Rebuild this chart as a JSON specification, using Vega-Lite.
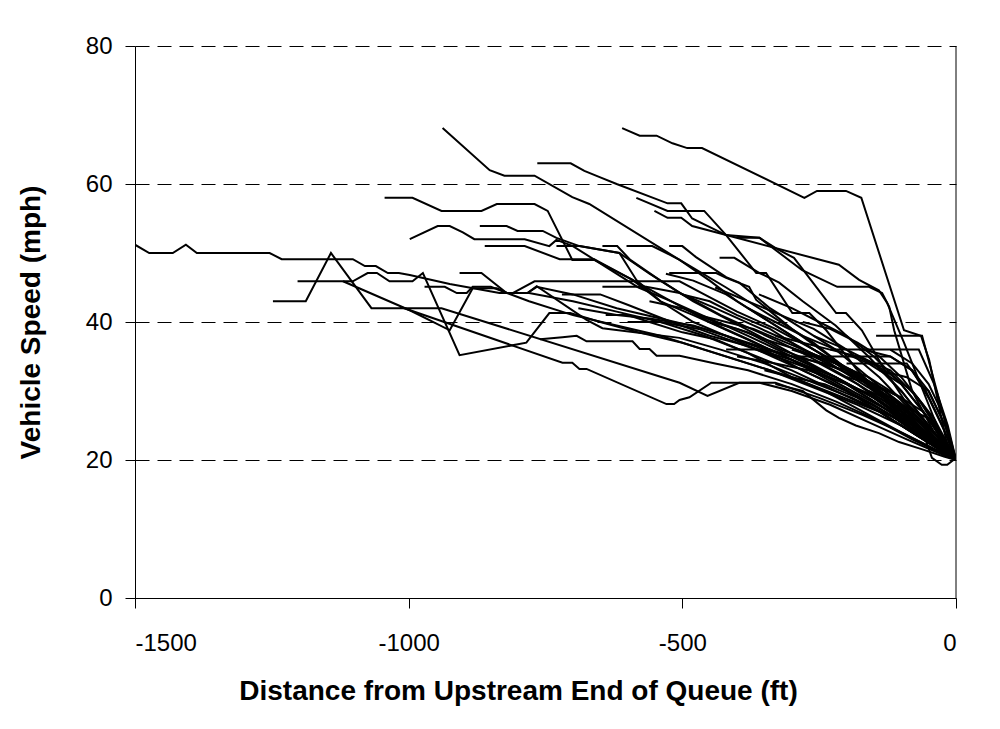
{
"$schema": "https://vega.github.io/schema/vega-lite/v6.json",
"width": 821, "height": 552,
"autosize": {"type": "none"},
"padding": {"left": 135, "top": 46, "right": 44, "bottom": 131},
"background": "white",
"config": {"view": {"stroke": null}, "font": "Liberation Sans"},
"datasets": {
"traj": [
{"id":1,"x":-610,"y":68.1},{"id":1,"x":-578,"y":67},{"id":1,"x":-547,"y":67},{"id":1,"x":-518,"y":65.9},{"id":1,"x":-491,"y":65.2},{"id":1,"x":-464,"y":65.2},{"id":1,"x":-277,"y":58},{"id":1,"x":-254,"y":59},{"id":1,"x":-201,"y":59},{"id":1,"x":-173,"y":58},{"id":1,"x":-95,"y":38.8},{"id":1,"x":-64,"y":38},{"id":1,"x":-49,"y":34.5},{"id":1,"x":-13,"y":21},{"id":1,"x":0,"y":20},
{"id":2,"x":-938,"y":68.1},{"id":2,"x":-852,"y":62},{"id":2,"x":-825,"y":61.2},{"id":2,"x":-770,"y":61.2},{"id":2,"x":-701,"y":58.1},{"id":2,"x":-670,"y":57.1},{"id":2,"x":-505,"y":49},{"id":2,"x":-420,"y":45},{"id":2,"x":-340,"y":41},{"id":2,"x":-260,"y":37},{"id":2,"x":-180,"y":32},{"id":2,"x":-100,"y":27},{"id":2,"x":-50,"y":23},{"id":2,"x":0,"y":20},
{"id":3,"x":-765,"y":63},{"id":3,"x":-704,"y":63},{"id":3,"x":-679,"y":61.9},{"id":3,"x":-651,"y":61},{"id":3,"x":-620,"y":60},{"id":3,"x":-527,"y":57.2},{"id":3,"x":-502,"y":57.2},{"id":3,"x":-482,"y":55},{"id":3,"x":-420,"y":52.6},{"id":3,"x":-359,"y":52.2},{"id":3,"x":-323,"y":50.4},{"id":3,"x":-296,"y":49.3},{"id":3,"x":-219,"y":41.3},{"id":3,"x":-201,"y":41.3},{"id":3,"x":-172,"y":38.8},{"id":3,"x":-130,"y":33},{"id":3,"x":-80,"y":27},{"id":3,"x":-40,"y":23},{"id":3,"x":0,"y":20},
{"id":4,"x":-584,"y":58},{"id":4,"x":-527,"y":56.1},{"id":4,"x":-460,"y":56.1},{"id":4,"x":-420,"y":52.6},{"id":4,"x":-365,"y":47.1},{"id":4,"x":-347,"y":47.1},{"id":4,"x":-299,"y":41.3},{"id":4,"x":-268,"y":41.3},{"id":4,"x":-237,"y":38.8},{"id":4,"x":-180,"y":33},{"id":4,"x":-120,"y":28},{"id":4,"x":-60,"y":24},{"id":4,"x":0,"y":20},
{"id":5,"x":-551,"y":56.1},{"id":5,"x":-527,"y":55.1},{"id":5,"x":-502,"y":55.1},{"id":5,"x":-482,"y":53.9},{"id":5,"x":-420,"y":52.6},{"id":5,"x":-214,"y":48.3},{"id":5,"x":-177,"y":46.1},{"id":5,"x":-141,"y":44.6},{"id":5,"x":-126,"y":42.8},{"id":5,"x":-95,"y":37},{"id":5,"x":-60,"y":30},{"id":5,"x":-30,"y":24},{"id":5,"x":0,"y":20},
{"id":6,"x":-400,"y":52.2},{"id":6,"x":-359,"y":52.2},{"id":6,"x":-281,"y":47.5},{"id":6,"x":-217,"y":45.1},{"id":6,"x":-159,"y":45.1},{"id":6,"x":-135,"y":44.2},{"id":6,"x":-122,"y":42.2},{"id":6,"x":-113,"y":38.8},{"id":6,"x":-80,"y":30},{"id":6,"x":-40,"y":24},{"id":6,"x":0,"y":20},
{"id":7,"x":-1500,"y":51.2},{"id":7,"x":-1474,"y":50},{"id":7,"x":-1431,"y":50},{"id":7,"x":-1407,"y":51.2},{"id":7,"x":-1387,"y":50},{"id":7,"x":-1254,"y":50},{"id":7,"x":-1232,"y":49.1},{"id":7,"x":-1102,"y":49.1},{"id":7,"x":-1080,"y":48.1},{"id":7,"x":-1060,"y":48.1},{"id":7,"x":-1038,"y":47.1},{"id":7,"x":-1018,"y":47.1},{"id":7,"x":-998,"y":46.8},{"id":7,"x":-925,"y":45.5},{"id":7,"x":-834,"y":44.2},{"id":7,"x":-780,"y":44.2},{"id":7,"x":-700,"y":43},{"id":7,"x":-620,"y":41.5},{"id":7,"x":-540,"y":40},{"id":7,"x":-460,"y":38},{"id":7,"x":-380,"y":35.5},{"id":7,"x":-300,"y":33},{"id":7,"x":-220,"y":30},{"id":7,"x":-140,"y":27},{"id":7,"x":-70,"y":23.5},{"id":7,"x":0,"y":20},
{"id":8,"x":-1248,"y":43},{"id":8,"x":-1188,"y":43},{"id":8,"x":-1142,"y":50},{"id":8,"x":-1068,"y":42},{"id":8,"x":-998,"y":42},{"id":8,"x":-940,"y":42},{"id":8,"x":-505,"y":31.2},{"id":8,"x":-454,"y":29.3},{"id":8,"x":-396,"y":31.2},{"id":8,"x":-330,"y":31.2},{"id":8,"x":-250,"y":29},{"id":8,"x":-170,"y":26.5},{"id":8,"x":-100,"y":24},{"id":8,"x":-50,"y":22},{"id":8,"x":0,"y":20},
{"id":9,"x":-1203,"y":45.9},{"id":9,"x":-1102,"y":45.9},{"id":9,"x":-1075,"y":47.1},{"id":9,"x":-1058,"y":47.1},{"id":9,"x":-1035,"y":45.9},{"id":9,"x":-993,"y":45.9},{"id":9,"x":-974,"y":47.1},{"id":9,"x":-907,"y":35.2},{"id":9,"x":-785,"y":37},{"id":9,"x":-743,"y":41.3},{"id":9,"x":-705,"y":41.3},{"id":9,"x":-650,"y":40},{"id":9,"x":-580,"y":38.5},{"id":9,"x":-500,"y":37},{"id":9,"x":-420,"y":35},{"id":9,"x":-340,"y":33},{"id":9,"x":-260,"y":30.5},{"id":9,"x":-180,"y":28},{"id":9,"x":-100,"y":25},{"id":9,"x":-40,"y":22},{"id":9,"x":0,"y":20},
{"id":10,"x":-760,"y":37.5},{"id":10,"x":-719,"y":37.8},{"id":10,"x":-693,"y":38},{"id":10,"x":-675,"y":37.2},{"id":10,"x":-591,"y":37.2},{"id":10,"x":-578,"y":36.1},{"id":10,"x":-560,"y":36.1},{"id":10,"x":-547,"y":35.1},{"id":10,"x":-505,"y":35.1},{"id":10,"x":-440,"y":34},{"id":10,"x":-380,"y":33},{"id":10,"x":-300,"y":31},{"id":10,"x":-220,"y":28.5},{"id":10,"x":-150,"y":26},{"id":10,"x":-80,"y":23},{"id":10,"x":0,"y":20},
{"id":11,"x":-1120,"y":45.9},{"id":11,"x":-998,"y":41.7},{"id":11,"x":-925,"y":38.8},{"id":11,"x":-883,"y":44.9},{"id":11,"x":-839,"y":44.9},{"id":11,"x":-821,"y":44.2},{"id":11,"x":-783,"y":44.2},{"id":11,"x":-766,"y":45.2},{"id":11,"x":-675,"y":40.3},{"id":11,"x":-646,"y":39.1},{"id":11,"x":-505,"y":37.7},{"id":11,"x":-430,"y":36},{"id":11,"x":-350,"y":34},{"id":11,"x":-270,"y":31.5},{"id":11,"x":-190,"y":29},{"id":11,"x":-110,"y":26},{"id":11,"x":-50,"y":22.5},{"id":11,"x":0,"y":20},
{"id":12,"x":-1016,"y":42.2},{"id":12,"x":-719,"y":34.1},{"id":12,"x":-701,"y":34.1},{"id":12,"x":-688,"y":33.2},{"id":12,"x":-675,"y":33.2},{"id":12,"x":-529,"y":28.1},{"id":12,"x":-515,"y":28.1},{"id":12,"x":-505,"y":28.7},{"id":12,"x":-487,"y":29.1},{"id":12,"x":-447,"y":31.2},{"id":12,"x":-359,"y":31.2},{"id":12,"x":-300,"y":30},{"id":12,"x":-230,"y":28},{"id":12,"x":-160,"y":25.5},{"id":12,"x":-90,"y":23},{"id":12,"x":-40,"y":21.3},{"id":12,"x":0,"y":20},
{"id":13,"x":-907,"y":47.1},{"id":13,"x":-867,"y":47.1},{"id":13,"x":-821,"y":44.2},{"id":13,"x":-783,"y":44.2},{"id":13,"x":-766,"y":45.1},{"id":13,"x":-700,"y":44},{"id":13,"x":-620,"y":42},{"id":13,"x":-540,"y":40.5},{"id":13,"x":-460,"y":39},{"id":13,"x":-380,"y":37},{"id":13,"x":-300,"y":35},{"id":13,"x":-220,"y":32},{"id":13,"x":-150,"y":29},{"id":13,"x":-80,"y":25},{"id":13,"x":0,"y":20},
{"id":14,"x":-810,"y":44.2},{"id":14,"x":-770,"y":45.9},{"id":14,"x":-505,"y":45.9},{"id":14,"x":-460,"y":44},{"id":14,"x":-400,"y":41.5},{"id":14,"x":-330,"y":39},{"id":14,"x":-260,"y":36},{"id":14,"x":-190,"y":33},{"id":14,"x":-120,"y":29},{"id":14,"x":-60,"y":25},{"id":14,"x":0,"y":20},
{"id":15,"x":-971,"y":45.1},{"id":15,"x":-934,"y":45.1},{"id":15,"x":-912,"y":44.2},{"id":15,"x":-894,"y":44.2},{"id":15,"x":-883,"y":45.1},{"id":15,"x":-850,"y":45.1},{"id":15,"x":-780,"y":43},{"id":15,"x":-700,"y":41},{"id":15,"x":-620,"y":39.5},{"id":15,"x":-540,"y":38},{"id":15,"x":-460,"y":36},{"id":15,"x":-380,"y":34},{"id":15,"x":-300,"y":32},{"id":15,"x":-220,"y":29.5},{"id":15,"x":-140,"y":27},{"id":15,"x":-70,"y":23.5},{"id":15,"x":0,"y":20},
{"id":16,"x":-1044,"y":58},{"id":16,"x":-993,"y":58},{"id":16,"x":-940,"y":56.1},{"id":16,"x":-867,"y":56.1},{"id":16,"x":-839,"y":57.1},{"id":16,"x":-770,"y":57.1},{"id":16,"x":-746,"y":56.1},{"id":16,"x":-701,"y":49},{"id":16,"x":-661,"y":49},{"id":16,"x":-591,"y":46.1},{"id":16,"x":-520,"y":43},{"id":16,"x":-450,"y":40},{"id":16,"x":-380,"y":37.5},{"id":16,"x":-300,"y":34.5},{"id":16,"x":-220,"y":31},{"id":16,"x":-150,"y":28},{"id":16,"x":-80,"y":24.5},{"id":16,"x":0,"y":20},
{"id":17,"x":-998,"y":52},{"id":17,"x":-947,"y":53.9},{"id":17,"x":-925,"y":53.9},{"id":17,"x":-901,"y":53},{"id":17,"x":-880,"y":52},{"id":17,"x":-788,"y":52},{"id":17,"x":-743,"y":51},{"id":17,"x":-730,"y":51.9},{"id":17,"x":-700,"y":51},{"id":17,"x":-640,"y":48},{"id":17,"x":-580,"y":45},{"id":17,"x":-520,"y":43},{"id":17,"x":-450,"y":40.5},{"id":17,"x":-380,"y":38},{"id":17,"x":-300,"y":35},{"id":17,"x":-220,"y":32},{"id":17,"x":-140,"y":28},{"id":17,"x":-70,"y":24},{"id":17,"x":0,"y":20},
{"id":18,"x":-870,"y":53.9},{"id":18,"x":-821,"y":53.9},{"id":18,"x":-801,"y":53.2},{"id":18,"x":-755,"y":53.2},{"id":18,"x":-730,"y":52.2},{"id":18,"x":-688,"y":51},{"id":18,"x":-615,"y":50},{"id":18,"x":-560,"y":47},{"id":18,"x":-500,"y":44},{"id":18,"x":-430,"y":41},{"id":18,"x":-360,"y":38.5},{"id":18,"x":-280,"y":35.5},{"id":18,"x":-200,"y":32},{"id":18,"x":-130,"y":28.5},{"id":18,"x":-60,"y":24},{"id":18,"x":0,"y":20},
{"id":19,"x":-861,"y":51},{"id":19,"x":-788,"y":51},{"id":19,"x":-724,"y":49.1},{"id":19,"x":-661,"y":49.1},{"id":19,"x":-591,"y":46.1},{"id":19,"x":-540,"y":43},{"id":19,"x":-480,"y":41},{"id":19,"x":-410,"y":38.5},{"id":19,"x":-340,"y":36},{"id":19,"x":-270,"y":33.5},{"id":19,"x":-190,"y":30},{"id":19,"x":-120,"y":27},{"id":19,"x":-60,"y":23.5},{"id":19,"x":0,"y":20},
{"id":20,"x":-730,"y":51},{"id":20,"x":-688,"y":51},{"id":20,"x":-615,"y":50},{"id":20,"x":-584,"y":46.1},{"id":20,"x":-540,"y":43},{"id":20,"x":-480,"y":40},{"id":20,"x":-420,"y":38},{"id":20,"x":-350,"y":35.5},{"id":20,"x":-280,"y":33},{"id":20,"x":-200,"y":30},{"id":20,"x":-130,"y":27},{"id":20,"x":-60,"y":23.5},{"id":20,"x":0,"y":20},
{"id":21,"x":-646,"y":51},{"id":21,"x":-619,"y":51},{"id":21,"x":-595,"y":49},{"id":21,"x":-540,"y":46},{"id":21,"x":-480,"y":43},{"id":21,"x":-420,"y":40.5},{"id":21,"x":-360,"y":38},{"id":21,"x":-290,"y":35},{"id":21,"x":-220,"y":32},{"id":21,"x":-150,"y":29},{"id":21,"x":-80,"y":25},{"id":21,"x":0,"y":20},
{"id":22,"x":-602,"y":51},{"id":22,"x":-555,"y":51},{"id":22,"x":-529,"y":50},{"id":22,"x":-505,"y":49},{"id":22,"x":-450,"y":46},{"id":22,"x":-400,"y":43},{"id":22,"x":-340,"y":40},{"id":22,"x":-280,"y":37},{"id":22,"x":-210,"y":33.5},{"id":22,"x":-140,"y":30},{"id":22,"x":-70,"y":25},{"id":22,"x":0,"y":20},
{"id":23,"x":-524,"y":51},{"id":23,"x":-500,"y":51},{"id":23,"x":-475,"y":49.4},{"id":23,"x":-420,"y":46.5},{"id":23,"x":-396,"y":45.7},{"id":23,"x":-340,"y":42},{"id":23,"x":-280,"y":39},{"id":23,"x":-220,"y":36},{"id":23,"x":-160,"y":32},{"id":23,"x":-100,"y":28},{"id":23,"x":-50,"y":24},{"id":23,"x":0,"y":20},
{"id":24,"x":-432,"y":49.3},{"id":24,"x":-405,"y":49.3},{"id":24,"x":-359,"y":47.1},{"id":24,"x":-323,"y":45.7},{"id":24,"x":-280,"y":43},{"id":24,"x":-220,"y":39.5},{"id":24,"x":-160,"y":35},{"id":24,"x":-100,"y":30},{"id":24,"x":-50,"y":25},{"id":24,"x":0,"y":20},
{"id":25,"x":-524,"y":47.1},{"id":25,"x":-438,"y":47.1},{"id":25,"x":-420,"y":46.4},{"id":25,"x":-378,"y":45.1},{"id":25,"x":-365,"y":43.2},{"id":25,"x":-300,"y":39},{"id":25,"x":-230,"y":35},{"id":25,"x":-160,"y":31},{"id":25,"x":-90,"y":26.5},{"id":25,"x":-40,"y":23},{"id":25,"x":0,"y":20},
{"id":26,"x":-646,"y":45.1},{"id":26,"x":-566,"y":45.1},{"id":26,"x":-505,"y":44.2},{"id":26,"x":-440,"y":42},{"id":26,"x":-370,"y":39.5},{"id":26,"x":-300,"y":37},{"id":26,"x":-230,"y":34},{"id":26,"x":-160,"y":30.5},{"id":26,"x":-90,"y":26.5},{"id":26,"x":-40,"y":23},{"id":26,"x":0,"y":20},
{"id":27,"x":-720,"y":44},{"id":27,"x":-650,"y":44},{"id":27,"x":-600,"y":42.5},{"id":27,"x":-520,"y":40},{"id":27,"x":-450,"y":38},{"id":27,"x":-380,"y":36.5},{"id":27,"x":-300,"y":34.5},{"id":27,"x":-220,"y":32},{"id":27,"x":-150,"y":29},{"id":27,"x":-90,"y":26},{"id":27,"x":-40,"y":23},{"id":27,"x":0,"y":20},
{"id":28,"x":-690,"y":42},{"id":28,"x":-620,"y":41},{"id":28,"x":-560,"y":40.5},{"id":28,"x":-480,"y":39.5},{"id":28,"x":-420,"y":38},{"id":28,"x":-350,"y":36},{"id":28,"x":-280,"y":33},{"id":28,"x":-200,"y":30},{"id":28,"x":-130,"y":27},{"id":28,"x":-70,"y":24},{"id":28,"x":0,"y":20},
{"id":29,"x":-640,"y":41},{"id":29,"x":-600,"y":41},{"id":29,"x":-560,"y":40},{"id":29,"x":-500,"y":38.5},{"id":29,"x":-440,"y":37.5},{"id":29,"x":-380,"y":35.5},{"id":29,"x":-300,"y":32},{"id":29,"x":-240,"y":30},{"id":29,"x":-170,"y":27},{"id":29,"x":-100,"y":24},{"id":29,"x":-50,"y":22},{"id":29,"x":0,"y":20},
{"id":30,"x":-600,"y":40},{"id":30,"x":-540,"y":40},{"id":30,"x":-470,"y":39},{"id":30,"x":-400,"y":37},{"id":30,"x":-330,"y":35},{"id":30,"x":-260,"y":33},{"id":30,"x":-200,"y":31},{"id":30,"x":-140,"y":28},{"id":30,"x":-80,"y":25},{"id":30,"x":0,"y":20},
{"id":31,"x":-560,"y":43},{"id":31,"x":-500,"y":42},{"id":31,"x":-440,"y":40},{"id":31,"x":-380,"y":38.5},{"id":31,"x":-320,"y":36},{"id":31,"x":-250,"y":34},{"id":31,"x":-180,"y":31},{"id":31,"x":-110,"y":27},{"id":31,"x":-60,"y":24},{"id":31,"x":0,"y":20},
{"id":32,"x":-530,"y":47},{"id":32,"x":-480,"y":46},{"id":32,"x":-420,"y":44},{"id":32,"x":-360,"y":41},{"id":32,"x":-300,"y":38},{"id":32,"x":-240,"y":35},{"id":32,"x":-180,"y":32},{"id":32,"x":-120,"y":29},{"id":32,"x":-60,"y":25},{"id":32,"x":0,"y":20},
{"id":33,"x":-500,"y":44},{"id":33,"x":-450,"y":43},{"id":33,"x":-400,"y":41},{"id":33,"x":-340,"y":39},{"id":33,"x":-280,"y":36},{"id":33,"x":-220,"y":34},{"id":33,"x":-160,"y":31},{"id":33,"x":-100,"y":28},{"id":33,"x":-50,"y":24},{"id":33,"x":0,"y":20},
{"id":34,"x":-470,"y":41},{"id":34,"x":-420,"y":40},{"id":34,"x":-370,"y":39},{"id":34,"x":-310,"y":37},{"id":34,"x":-250,"y":35},{"id":34,"x":-190,"y":33},{"id":34,"x":-130,"y":30},{"id":34,"x":-70,"y":26},{"id":34,"x":0,"y":20},
{"id":35,"x":-450,"y":40},{"id":35,"x":-400,"y":39},{"id":35,"x":-350,"y":37.5},{"id":35,"x":-290,"y":36},{"id":35,"x":-220,"y":34},{"id":35,"x":-160,"y":32},{"id":35,"x":-100,"y":29},{"id":35,"x":-50,"y":25},{"id":35,"x":0,"y":20},
{"id":36,"x":-420,"y":36},{"id":36,"x":-350,"y":36},{"id":36,"x":-300,"y":35},{"id":36,"x":-240,"y":34},{"id":36,"x":-180,"y":32},{"id":36,"x":-130,"y":30},{"id":36,"x":-80,"y":27},{"id":36,"x":-40,"y":24},{"id":36,"x":0,"y":20},
{"id":37,"x":-400,"y":35},{"id":37,"x":-330,"y":34},{"id":37,"x":-270,"y":33},{"id":37,"x":-200,"y":31},{"id":37,"x":-140,"y":29},{"id":37,"x":-80,"y":26},{"id":37,"x":-30,"y":22},{"id":37,"x":0,"y":20},
{"id":38,"x":-380,"y":42},{"id":38,"x":-330,"y":40},{"id":38,"x":-280,"y":38},{"id":38,"x":-220,"y":36},{"id":38,"x":-160,"y":34},{"id":38,"x":-100,"y":31},{"id":38,"x":-50,"y":26},{"id":38,"x":0,"y":20},
{"id":39,"x":-360,"y":44},{"id":39,"x":-300,"y":42},{"id":39,"x":-250,"y":40},{"id":39,"x":-200,"y":38},{"id":39,"x":-150,"y":35},{"id":39,"x":-100,"y":31},{"id":39,"x":-60,"y":27},{"id":39,"x":0,"y":20},
{"id":40,"x":-330,"y":38},{"id":40,"x":-280,"y":37},{"id":40,"x":-230,"y":36},{"id":40,"x":-180,"y":35},{"id":40,"x":-130,"y":33},{"id":40,"x":-80,"y":30},{"id":40,"x":-40,"y":26},{"id":40,"x":0,"y":20},
{"id":41,"x":-300,"y":36},{"id":41,"x":-260,"y":35},{"id":41,"x":-210,"y":33},{"id":41,"x":-160,"y":31},{"id":41,"x":-110,"y":28},{"id":41,"x":-60,"y":25},{"id":41,"x":0,"y":20},
{"id":42,"x":-280,"y":40},{"id":42,"x":-230,"y":39},{"id":42,"x":-180,"y":37},{"id":42,"x":-140,"y":35},{"id":42,"x":-100,"y":32},{"id":42,"x":-60,"y":28},{"id":42,"x":-20,"y":23},{"id":42,"x":0,"y":20},
{"id":43,"x":-250,"y":34},{"id":43,"x":-200,"y":33},{"id":43,"x":-150,"y":31},{"id":43,"x":-100,"y":29},{"id":43,"x":-60,"y":26},{"id":43,"x":-30,"y":23},{"id":43,"x":0,"y":20},
{"id":44,"x":-230,"y":36},{"id":44,"x":-170,"y":36},{"id":44,"x":-120,"y":35},{"id":44,"x":-80,"y":33},{"id":44,"x":-50,"y":29},{"id":44,"x":-20,"y":24},{"id":44,"x":0,"y":20},
{"id":45,"x":-200,"y":32},{"id":45,"x":-150,"y":31},{"id":45,"x":-100,"y":29},{"id":45,"x":-60,"y":27},{"id":45,"x":-20,"y":23},{"id":45,"x":0,"y":20},
{"id":46,"x":-180,"y":35},{"id":46,"x":-120,"y":35},{"id":46,"x":-80,"y":33},{"id":46,"x":-50,"y":30},{"id":46,"x":-20,"y":25},{"id":46,"x":0,"y":20},
{"id":47,"x":-160,"y":30},{"id":47,"x":-100,"y":28},{"id":47,"x":-50,"y":26},{"id":47,"x":-20,"y":22},{"id":47,"x":0,"y":20},
{"id":48,"x":-140,"y":33},{"id":48,"x":-90,"y":32},{"id":48,"x":-50,"y":30},{"id":48,"x":-20,"y":25},{"id":48,"x":0,"y":20},
{"id":49,"x":-330,"y":31},{"id":49,"x":-280,"y":30},{"id":49,"x":-237,"y":27.2},{"id":49,"x":-214,"y":26.1},{"id":49,"x":-183,"y":25},{"id":49,"x":-141,"y":23.9},{"id":49,"x":-104,"y":22.6},{"id":49,"x":-60,"y":21.5},{"id":49,"x":-22,"y":20.5},{"id":49,"x":0,"y":20},
{"id":50,"x":-100,"y":26},{"id":50,"x":-60,"y":24},{"id":50,"x":-44,"y":20.3},{"id":50,"x":-26,"y":19.3},{"id":50,"x":-16,"y":19.3},{"id":50,"x":0,"y":20.3},
{"id":51,"x":-260,"y":38},{"id":51,"x":-200,"y":36},{"id":51,"x":-150,"y":34},{"id":51,"x":-100,"y":30},{"id":51,"x":-40,"y":24},{"id":51,"x":0,"y":20},
{"id":52,"x":-440,"y":45},{"id":52,"x":-380,"y":43},{"id":52,"x":-320,"y":41},{"id":52,"x":-260,"y":39},{"id":52,"x":-200,"y":36},{"id":52,"x":-140,"y":32},{"id":52,"x":-80,"y":27},{"id":52,"x":-30,"y":23},{"id":52,"x":0,"y":20},
{"id":53,"x":-350,"y":33},{"id":53,"x":-300,"y":32},{"id":53,"x":-240,"y":31},{"id":53,"x":-180,"y":29},{"id":53,"x":-120,"y":26},{"id":53,"x":-60,"y":23},{"id":53,"x":0,"y":20},
{"id":54,"x":-120,"y":36},{"id":54,"x":-80,"y":34},{"id":54,"x":-50,"y":31},{"id":54,"x":-20,"y":26},{"id":54,"x":0,"y":20},
{"id":55,"x":-146,"y":38},{"id":55,"x":-62,"y":38},{"id":55,"x":-35,"y":30},{"id":55,"x":-15,"y":24},{"id":55,"x":0,"y":20},
{"id":56,"x":-177,"y":36},{"id":56,"x":-68,"y":36},{"id":56,"x":-40,"y":31},{"id":56,"x":-15,"y":25},{"id":56,"x":0,"y":20},
{"id":57,"x":-200,"y":34},{"id":57,"x":-90,"y":34},{"id":57,"x":-55,"y":30},{"id":57,"x":-25,"y":25},{"id":57,"x":0,"y":20},
{"id":58,"x":-300,"y":35},{"id":58,"x":-180,"y":35},{"id":58,"x":-120,"y":33},{"id":58,"x":-70,"y":29},{"id":58,"x":-30,"y":24},{"id":58,"x":0,"y":20}
],
"edge": [{"x": 0}]
},
"layer": [
{
"data": {"name": "edge"},
"mark": {"type": "rule", "color": "black", "strokeWidth": 1},
"encoding": {"x": {"field": "x", "type": "quantitative"}}
},
{
"data": {"name": "traj"},
"mark": {"type": "line", "color": "black", "strokeWidth": 2, "clip": true},
"encoding": {
"x": {"field": "x", "type": "quantitative",
"scale": {"domain": [-1500, 0], "nice": false, "zero": false},
"axis": {"values": [-1500, -1000, -500, 0], "labelExpr": "'' + datum.value", "grid": false, "domainColor": "black", "domainWidth": 1, "tickColor": "black", "tickSize": 10, "labelFontSize": 24, "labelColor": "black", "labelPadding": 23, "labelFont": "Liberation Sans", "title": "Distance from Upstream End of Queue (ft)", "titleFont": "Liberation Sans", "titleFontSize": 28, "titleFontWeight": "bold", "titleColor": "black", "titlePadding": 22, "titleX": 383}},
"y": {"field": "y", "type": "quantitative",
"scale": {"domain": [0, 80], "nice": false},
"axis": {"values": [0, 20, 40, 60, 80], "labelExpr": "'' + datum.value", "grid": true, "gridColor": "black", "gridDash": [14, 8], "gridWidth": 1, "gridOpacity": 1, "domainColor": "black", "domainWidth": 1, "tickColor": "black", "tickSize": 10, "labelFontSize": 24, "labelColor": "black", "labelPadding": 13, "labelFont": "Liberation Sans", "title": "Vehicle Speed (mph)", "titleFont": "Liberation Sans", "titleFontSize": 28, "titleFontWeight": "bold", "titleColor": "black", "titlePadding": 40}},
"detail": {"field": "id", "type": "nominal"}
}
}
]
}
